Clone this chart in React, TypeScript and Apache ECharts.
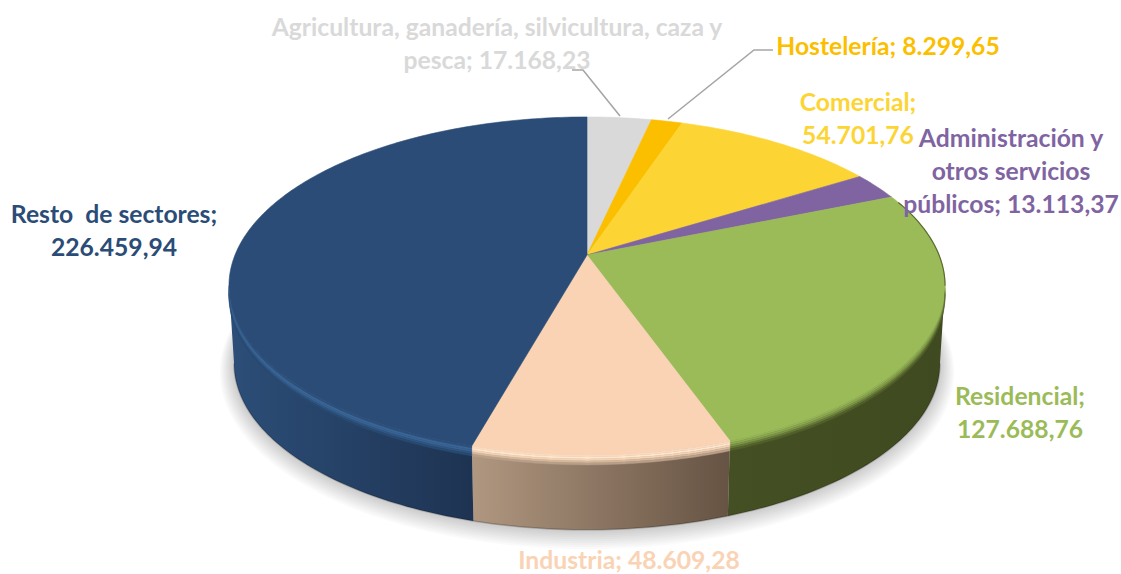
import React, { useEffect, useRef } from "react";
import * as echarts from "echarts";

const categories = [
  "Agricultura, ganadería, silvicultura, caza y\npesca",
  "Hostelería",
  "Comercial",
  "Administración y\notros servicios\npúblicos",
  "Residencial",
  "Industria",
  "Resto  de sectores",
];
const values = [17168.23, 8299.65, 54701.76, 13113.37, 127688.76, 48609.28, 226459.94];
const splitLabelValue = [false, false, true, false, true, false, true];

const faceColors = ["#d9d9d9", "#fbbf00", "#fcd535", "#8064a2", "#9bbb59", "#f9d3b4", "#2a4c76"];
const labelColors = ["#d9d9d9", "#fbbf00", "#fcd535", "#8064a2", "#9bbb59", "#f9d3b4", "#2a4c76"];
const wallStops = [
  ["#8a8a8a", "#8a8a8a"],
  ["#7a6000", "#7a6000"],
  ["#7e6a1a", "#7e6a1a"],
  ["#403251", "#403251"],
  ["#444f23", "#3f4a20"],
  ["#b09780", "#665343"],
  ["#2c4e78", "#1e3352"],
];
const bevelColors = [
  ["#d9d9d9", "#d9d9d9", "#d9d9d9", "#b0b0b0", "#8a8a8a"],
  ["#fbbf00", "#fbbf00", "#fbbf00", "#c09000", "#7a6000"],
  ["#fcd535", "#fcd535", "#fcd535", "#c0a020", "#7e6a1a"],
  ["#8064a2", "#8064a2", "#8064a2", "#604b7a", "#403251"],
  ["#96b556", "#8ca850", "#7c9544", "#65783a", "#525f2b"],
  ["#fbd9bd", "#fee6cf", "#f3d3b6", "#d8b89c", "#b89f89"],
  ["#2c4f7a", "#3a6596", "#386293", "#2f5581", "#284a70"],
];
const labelAnchors: [number, number][] = [
  [497, 43],
  [888, 45],
  [858, 118],
  [1011, 170],
  [1020, 412],
  [629, 559],
  [114, 230],
];
const labelLineHeights = [33, 33, 33, 33, 33, 24, 33];

const CX = 587;
const CY_TOP = 255;
const CY_BOTTOM = 333;
const RX_TOP = 352;
const RY_TOP = 163.3;
const RX_BOTTOM = 347;
const RY_BOTTOM = 160.8;
const K = 0.183;
const VIS_START = 100.5;
const VIS_END = 259.5;
const BEVEL = [0, 2, 4, 6, 8, 10];
const SHADOW_LAYERS = [10, 9, 8, 7, 6, 5, 4, 3, 2, 1];

const total = values.reduce((a, b) => a + b, 0);
const proj = (deg: number, cy: number, rx: number, ry: number): number[] => {
  const t = (deg * Math.PI) / 180;
  const u = Math.sin(t);
  const v = -Math.cos(t);
  const w = 1 - K * v;
  return [CX + (rx * u) / w, cy + (ry * v) / w];
};
const top = (d: number) => proj(d, CY_TOP, RX_TOP, RY_TOP);
const bottom = (d: number) => proj(d, CY_BOTTOM, RX_BOTTOM, RY_BOTTOM);
const sweep = (a: number, b: number): number[] => {
  const out: number[] = [];
  const n = Math.max(2, Math.ceil(Math.abs(b - a)));
  for (let i = 0; i <= n; i++) out.push(a + ((b - a) * i) / n);
  return out;
};
const range = (i: number): [number, number] => {
  let sum = 0;
  for (let j = 0; j < i; j++) sum += values[j];
  return [(sum / total) * 360, ((sum + values[i]) / total) * 360];
};
const fmt = (n: number) => {
  const [a, b] = n.toFixed(2).split(".");
  return a.replace(/\B(?=(\d{3})+$)/g, ".") + "," + b;
};
const labelText = (i: number) =>
  categories[i] + ";" + (splitLabelValue[i] ? "\n" : " ") + fmt(values[i]);

const renderShadow = () => ({
  type: "group",
  children: SHADOW_LAYERS.map((n) => ({
    type: "polygon",
    silent: true,
    shape: {
      points: sweep(0, 359).map((d) =>
        proj(d, CY_BOTTOM + n * 0.7, RX_BOTTOM + n * 1.4, RY_BOTTOM + n * 1.0)
      ),
    },
    style: { fill: "rgba(0,0,0,0.018)" },
  })),
});

const renderWall = (params: any) => {
  const i = params.dataIndex;
  const [a0, a1] = range(i);
  const a = Math.max(a0, VIS_START);
  const b = Math.min(a1, VIS_END);
  if (b <= a) return { type: "group", children: [] };
  const deg = sweep(a, b);
  const stops = wallStops[i];
  return {
    type: "group",
    children: [
      {
        type: "polygon",
        shape: { points: [...deg.map(top), ...deg.slice().reverse().map(bottom)] },
        style: {
          fill: {
            type: "linear",
            x: 0,
            y: 0,
            x2: 1,
            y2: 0,
            colorStops: [
              { offset: 0, color: stops[0] },
              { offset: 1, color: stops[1] },
            ],
          },
        },
      },
      {
        type: "polyline",
        shape: { points: deg.map(bottom) },
        style: { fill: "none", stroke: "rgba(0,0,0,0.22)", lineWidth: 1.5 },
      },
    ],
  };
};

const renderFace = (params: any) => {
  const i = params.dataIndex;
  const [a0, a1] = range(i);
  const deg = sweep(a0, a1);
  const children: any[] = [
    {
      type: "polygon",
      shape: { points: [[CX, CY_TOP], ...deg.map(top)] },
      style: { fill: faceColors[i], stroke: faceColors[i], lineWidth: 0.6 },
    },
  ];
  const a = Math.max(a0, VIS_START);
  const b = Math.min(a1, VIS_END);
  if (b > a) {
    const vis = sweep(a, b);
    bevelColors[i].forEach((color, s) => {
      const off = (d: number, h: number) => {
        const p = top(d);
        return [p[0], p[1] + h];
      };
      children.push({
        type: "polygon",
        shape: {
          points: [
            ...vis.map((d) => off(d, BEVEL[s])),
            ...vis.slice().reverse().map((d) => off(d, BEVEL[s + 1])),
          ],
        },
        style: { fill: color, stroke: color, lineWidth: 0.4 },
      });
    });
  }
  const ea = Math.max(a0, 70);
  const eb = Math.min(a1, VIS_START);
  if (eb > ea) {
    children.push({
      type: "polyline",
      shape: { points: sweep(ea, eb).map(top) },
      style: { fill: "none", stroke: "#5d6a30", lineWidth: 1.2 },
    });
  }
  return { type: "group", children };
};

const lineStyle = { stroke: "#a6a6a6", lineWidth: 1.6, fill: "none" };

export default function App() {
  const ref = useRef<HTMLDivElement>(null);
  useEffect(() => {
    document.body.style.margin = "0";
    const chart = echarts.init(ref.current!, null, { renderer: "svg" });
    const data = values.map((v, i) => ({ name: categories[i], value: v }));
    chart.setOption({
      animation: false,
      backgroundColor: "#ffffff",
      series: [
        { type: "custom", coordinateSystem: "none", z: 1, silent: true, data: [values[0]], renderItem: renderShadow },
        { type: "custom", coordinateSystem: "none", z: 2, silent: true, data, renderItem: renderWall },
        { type: "custom", coordinateSystem: "none", z: 3, silent: true, data, renderItem: renderFace },
      ],
      graphic: {
        elements: [
          {
            type: "polyline",
            z: 10,
            shape: { points: [[572, 70], [583, 70], [620, 116]] },
            style: lineStyle,
          },
          {
            type: "polyline",
            z: 10,
            shape: { points: [[668, 119], [754, 50], [773, 50]] },
            style: lineStyle,
          },
          ...categories.map((_, i) => ({
            type: "text",
            z: 11,
            x: labelAnchors[i][0],
            y: labelAnchors[i][1],
            style: {
              text: labelText(i),
              fill: labelColors[i],
              font: '700 24.7px Lato, "Noto Sans", sans-serif',
              lineHeight: labelLineHeights[i],
              align: "center",
              verticalAlign: "middle",
            },
          })),
        ],
      },
    });
    return () => chart.dispose();
  }, []);
  return <div ref={ref} style={{ width: 1121, height: 574 }} />;
}
